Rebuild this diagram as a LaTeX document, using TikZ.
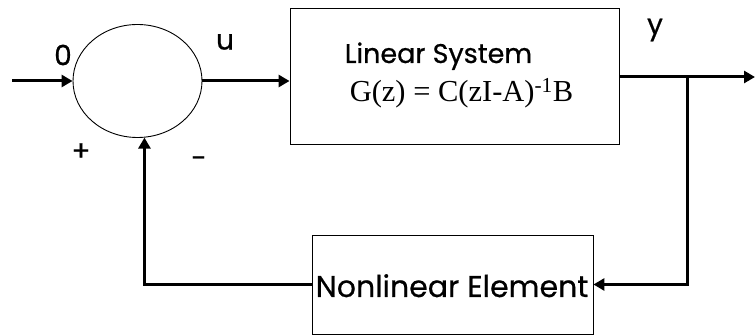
\documentclass[tikz,border=0pt]{standalone}
\usepackage{fontspec}
\setmainfont{Liberation Serif}
\newfontfamily\gothic{Poppins}[FakeBold=0.6]
\usetikzlibrary{shapes.geometric,arrows.meta}
\begin{document}
\begin{tikzpicture}[x=1pt,y=-1pt,
  blk/.style={draw,line width=0.9pt,inner sep=0pt},
  arr/.style={line width=3pt,-{Triangle[length=11pt,width=12pt]}},
  lbl/.style={inner sep=0pt,font=\gothic\fontsize{28}{30}\selectfont},
  txt/.style={inner sep=0pt,anchor=base}]
\useasboundingbox (0,0) rectangle (756,336);
\node[blk,ellipse,minimum width=129pt,minimum height=113pt] (sum) at (137.5,81) {};
\node[blk,minimum width=329pt,minimum height=136pt] (lin) at (454.5,76) {};
\node[blk,minimum width=281pt,minimum height=99pt] (nl) at (452.5,284.5) {};
\node[txt,font=\gothic\fontsize{27}{29}\selectfont] (t1) at (438.5,63) {Linear System};
\node[txt,font=\fontsize{30.5}{32}\selectfont] (t2) at (461.5,102) {G(z) = C(zI-A)\textsuperscript{-1}B};
\node[txt,font=\gothic\fontsize{30}{32}\selectfont] (t3) at (452,297) {Nonlinear Element};
\coordinate (in) at (12,81);
\coordinate (out) at (755,77);
\coordinate (br) at (687,77);
\node[lbl] (l0) at (63,55) {0};
\node[lbl] (lu) at (225,42) {u};
\node[lbl] (ly) at (655,30) {y};
\node[lbl] (lp) at (81,152) {+};
\node[lbl] (lm) at (199,162) {-};
\draw[arr] (in) -- (sum.west);
\draw[arr] (sum.east) -- (sum.east -| lin.west);
\draw[arr] (lin.east |- br) -- (out);
\draw[arr] (br) |- (nl.east);
\draw[arr] (nl.west) -| (sum.277);
\end{tikzpicture}
\end{document}
